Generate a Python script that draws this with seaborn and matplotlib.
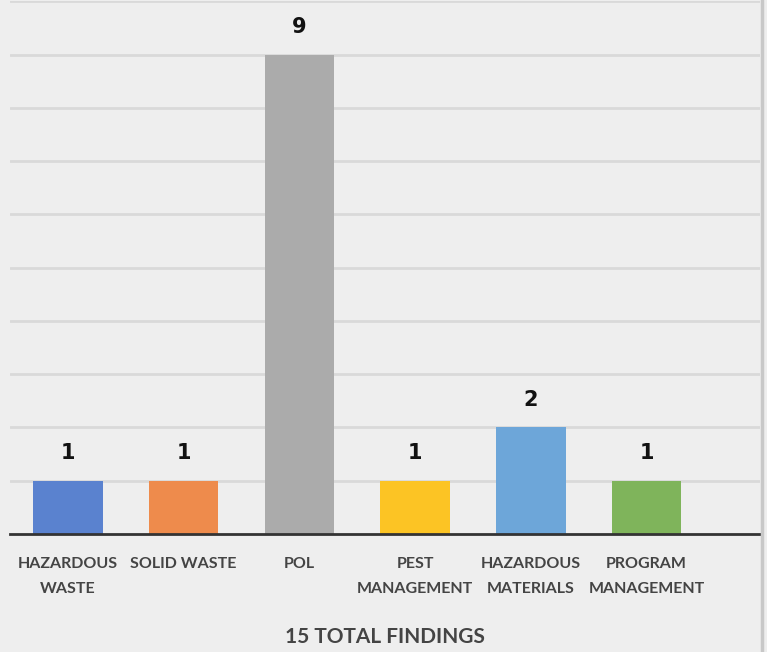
import matplotlib.pyplot as plt
import matplotlib.lines as mlines
import pandas as pd
import seaborn as sns

# Findings per category.
categories = ['HAZARDOUS\nWASTE', 'SOLID WASTE', 'POL', 'PEST\nMANAGEMENT',
              'HAZARDOUS\nMATERIALS', 'PROGRAM\nMANAGEMENT']
findings = [1, 1, 9, 1, 2, 1]
colours = ['#5A82CF', '#EE8B4C', '#ABABAB', '#FCC424', '#6DA6D9', '#7FB45B']
x_title = '15 TOTAL FINDINGS'

dados = pd.DataFrame({'categoria': categories, 'achados': findings})

sns.set_style('white')
plt.rcParams['font.family'] = ['Lato', 'DejaVu Sans']

fig = plt.figure(figsize=(7.67, 6.52), dpi=100, facecolor='#EEEEEE')
ax = fig.add_axes([0.013, 0.181, 0.978, 0.817])
ax.set_facecolor('#EEEEEE')

sns.barplot(data=dados, x='categoria', y='achados', hue='categoria',
            palette=colours, width=0.6, legend=False, saturation=1,
            linewidth=0, ax=ax)

ax.set_ylim(0, 10)
ax.set_xlim(-0.5, 5.98)
ax.set_yticks(range(1, 11))
ax.yaxis.grid(True, color='#D9D9D9', linewidth=2)
ax.set_axisbelow(True)
ax.tick_params(axis='y', left=False, labelleft=False)
ax.tick_params(axis='x', bottom=False, pad=13, labelsize=11.5, labelcolor='#444444')
for lab in ax.get_xticklabels():
    lab.set_fontweight('bold')
    lab.set_linespacing(2.05)

for s in ['top', 'left', 'right']:
    ax.spines[s].set_visible(False)
ax.spines['bottom'].set_color('#333333')
ax.spines['bottom'].set_linewidth(2)

for i, v in enumerate(findings):
    ax.annotate(str(v), (i, v), xytext=(0, 20), textcoords='offset points',
                ha='center', va='center', fontsize=15, fontweight='bold',
                family='DejaVu Sans', color='#111111')

ax.set_ylabel('')
ax.set_xlabel(x_title, fontsize=15, fontweight='bold', color='#444444', labelpad=22)

fig.add_artist(mlines.Line2D([0.9935, 0.9935], [0, 1], color='#C8C8C8',
                             linewidth=2.5, transform=fig.transFigure))

fig.savefig('out.png', dpi=100, facecolor=fig.get_facecolor())
